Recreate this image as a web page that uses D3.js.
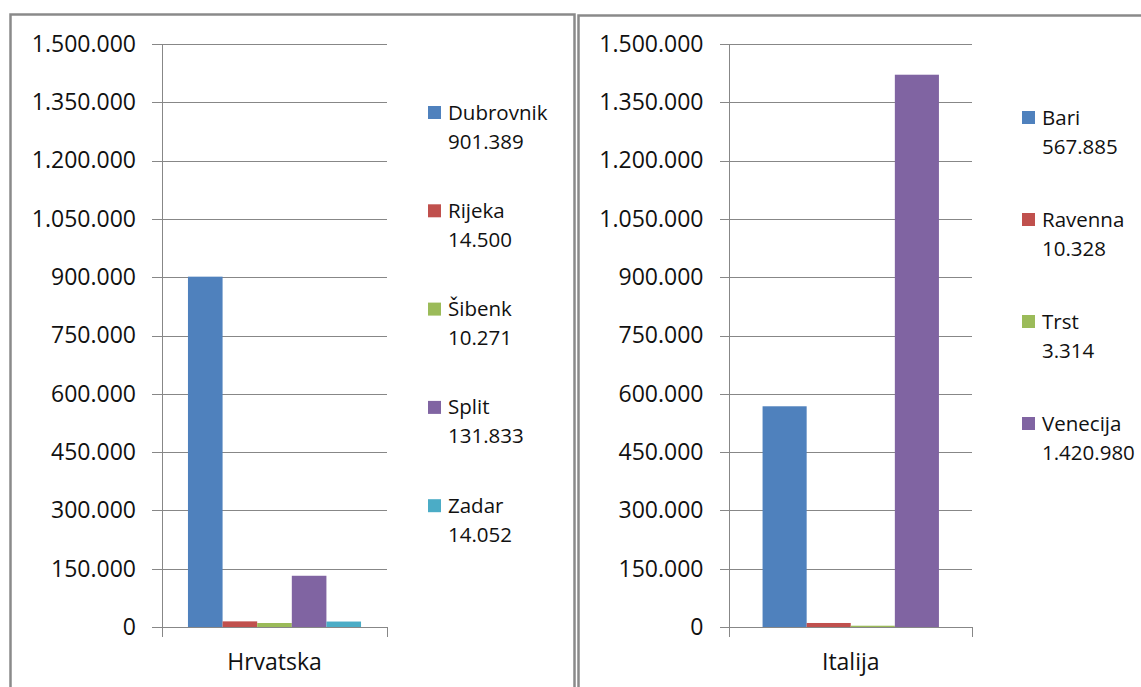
<!DOCTYPE html>
<html>
<head>
<meta charset="utf-8">
<script src="https://cdn.jsdelivr.net/npm/d3@7"></script>
<style>
  html, body { margin: 0; padding: 0; background: #fff; }
  svg { display: block; }
  text { font-family: "Open Sans", "Liberation Sans", sans-serif; fill: #111; }
</style>
</head>
<body>
<svg id="chart" width="1141" height="687"></svg>
<script>
// ---- data ----
const categories = ["Hrvatska", "Italija"];
const hrCities = ["Dubrovnik", "Rijeka", "Šibenk", "Split", "Zadar"];
const hrValues = [901389, 14500, 10271, 131833, 14052];
const itCities = ["Bari", "Ravenna", "Trst", "Venecija"];
const itValues = [567885, 10328, 3314, 1420980];
const yTicks = [0, 150000, 300000, 450000, 600000, 750000, 900000, 1050000, 1200000, 1350000, 1500000];
const hrColors = ["#4F81BD", "#C0504D", "#9BBB59", "#8064A2", "#4BACC6"];
const itColors = ["#4F81BD", "#C0504D", "#9BBB59", "#8064A2"];

// ---- layout ----
const W = 1141, H = 687;
const fmt = d3.formatLocale({ decimal: ",", thousands: ".", grouping: [3], currency: ["", ""] }).format(",d");
const svg = d3.select("#chart");
svg.append("rect").attr("width", W).attr("height", H).attr("fill", "#fff");

const panels = [
  { cat: categories[0], cities: hrCities, values: hrValues, colors: hrColors,
    frame: [10.5, 14.5, 574.5, 700], plot: [162, 387], legendX: 428, legendY: 106, legendStep: 98.3 },
  { cat: categories[1], cities: itCities, values: itValues, colors: itColors,
    frame: [578.5, 15.5, 1160, 700], plot: [729.5, 972], legendX: 1022, legendY: 111, legendStep: 102 }
];

const y = d3.scaleLinear().domain([0, 1500000]).range([627, 44]);
const gridColor = "#878787";

panels.forEach(p => {
  const g = svg.append("g");
  // frame
  g.append("rect")
    .attr("x", p.frame[0]).attr("y", p.frame[1])
    .attr("width", p.frame[2] - p.frame[0]).attr("height", p.frame[3] - p.frame[1])
    .attr("fill", "none").attr("stroke", "#8a8a8a").attr("stroke-width", 2.5);

  const x0 = p.plot[0], x1 = p.plot[1];
  const xCat = d3.scaleBand().domain([p.cat]).range([x0, x1]).padding(0);
  const xBar = d3.scaleBand().domain(p.cities)
    .range([xCat(p.cat), xCat(p.cat) + xCat.bandwidth()])
    .paddingInner(0).paddingOuter(0.75);

  // gridlines + y labels
  const yAxis = d3.axisLeft(y).tickValues(yTicks).tickSize(-(x1 - x0)).tickSizeOuter(0).tickPadding(26).tickFormat(fmt);
  const ya = g.append("g").attr("transform", `translate(${x0},0)`).call(yAxis);
  ya.select(".domain").remove();
  ya.selectAll(".tick line").attr("x1", -10).attr("stroke", gridColor).attr("stroke-width", 1).attr("shape-rendering", "crispEdges");
  ya.selectAll(".tick text").attr("font-size", 23).attr("fill", "#111")
    .attr("font-family", "'Open Sans', sans-serif");

  // y axis line
  g.append("line").attr("x1", x0).attr("x2", x0).attr("y1", y(1500000)).attr("y2", y(0))
    .attr("stroke", gridColor).attr("shape-rendering", "crispEdges");

  // bars
  g.selectAll("rect.bar").data(p.cities).join("rect").attr("class", "bar")
    .attr("x", d => xBar(d)).attr("width", xBar.bandwidth())
    .attr("y", (d, i) => y(p.values[i])).attr("height", (d, i) => y(0) - y(p.values[i]))
    .attr("fill", (d, i) => p.colors[i]);

  // x axis
  const xAxis = d3.axisBottom(xCat).tickSize(0).tickPadding(27);
  const xa = g.append("g").attr("transform", `translate(0,${y(0)})`).call(xAxis);
  xa.select(".domain").remove();
  xa.selectAll(".tick text").attr("font-size", 23).attr("fill", "#111").attr("font-family", "'Open Sans', sans-serif");
  g.append("line").attr("x1", x0 - 10).attr("x2", x1).attr("y1", y(0)).attr("y2", y(0))
    .attr("stroke", gridColor).attr("shape-rendering", "crispEdges");
  [x0, x1].forEach(xx => {
    g.append("line").attr("x1", xx).attr("x2", xx).attr("y1", y(0)).attr("y2", y(0) + 10)
      .attr("stroke", gridColor).attr("shape-rendering", "crispEdges");
  });

  // legend
  const lg = g.selectAll("g.leg").data(p.cities).join("g").attr("class", "leg")
    .attr("transform", (d, i) => `translate(${p.legendX},${p.legendY + i * p.legendStep})`);
  lg.append("rect").attr("width", 13).attr("height", 13).attr("fill", (d, i) => p.colors[i]);
  lg.append("text").attr("x", 20).attr("y", 13.5).attr("font-size", 20.5).text(d => d);
  lg.append("text").attr("x", 20).attr("y", 42.5).attr("font-size", 20.5).text((d, i) => fmt(p.values[i]));
});
</script>
</body>
</html>
